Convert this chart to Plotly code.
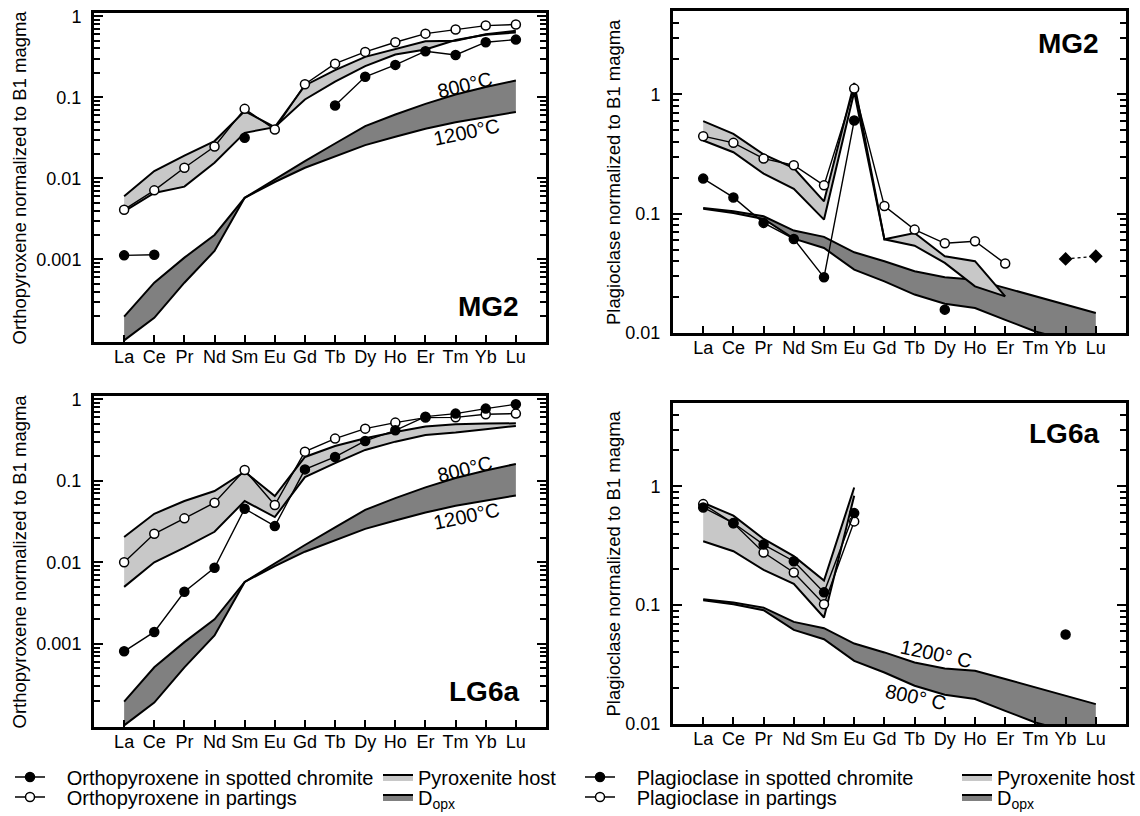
import numpy as np
import plotly.graph_objects as go

W, H = 1140, 816

elements = ["La", "Ce", "Pr", "Nd", "Sm", "Eu", "Gd", "Tb", "Dy", "Ho", "Er", "Tm", "Yb", "Lu"]

# ---------- MG2 orthopyroxene (top left) ----------
mg2_opx_spotted = [0.00112, 0.00114, None, None, 0.0316, None, None, 0.079, 0.179, 0.251, 0.37, 0.333, 0.478, 0.515]
mg2_opx_partings = [0.0041, 0.0071, 0.0135, 0.0247, 0.072, 0.040, 0.145, 0.26, 0.363, 0.478, 0.61, 0.685, 0.767, 0.79]
mg2_opx_host_upper = [0.0060, 0.0123, 0.0191, 0.0288, 0.0674, 0.0428, 0.14, 0.216, 0.315, 0.395, 0.49, 0.50, 0.60, 0.66]
mg2_opx_host_lower = [0.0039, 0.0066, 0.0079, 0.0156, 0.0364, 0.0428, 0.094, 0.156, 0.242, 0.337, 0.388, 0.51, 0.59, 0.63]

# ---------- LG6a orthopyroxene (bottom left) ----------
lg6a_opx_spotted = [0.00081, 0.0014, 0.00435, 0.00857, 0.0454, 0.0278, 0.138, 0.196, 0.308, 0.416, 0.612, 0.667, 0.768, 0.868]
lg6a_opx_partings = [0.0100, 0.0224, 0.0346, 0.0538, 0.1356, 0.0504, 0.2277, 0.329, 0.436, 0.517, 0.596, 0.60, 0.655, 0.667]
lg6a_opx_host_upper = [0.0204, 0.0394, 0.0565, 0.0749, 0.129, 0.065, 0.196, 0.267, 0.332, 0.397, 0.462, 0.493, 0.503, 0.507]
lg6a_opx_host_lower = [0.0050, 0.0100, 0.0151, 0.0237, 0.0565, 0.0359, 0.111, 0.165, 0.239, 0.302, 0.365, 0.39, 0.428, 0.471]

# ---------- D_opx (orthopyroxene partition coefficients) ----------
dopx_800 = [0.000196, 0.000515, 0.00105, 0.0020, 0.00575, 0.0097, 0.0163, 0.0269, 0.044, 0.0613, 0.083, 0.108, 0.134, 0.161]
dopx_1200 = [0.0001, 0.00019, 0.000515, 0.00127, 0.00575, 0.009, 0.0135, 0.0188, 0.0257, 0.0325, 0.0408, 0.0493, 0.0574, 0.066]

# ---------- MG2 plagioclase (top right) ----------
mg2_plag_spotted = [0.197, 0.137, 0.0838, 0.0615, 0.0293, 0.605, None, None, 0.0157, None, None, None, None, None]
mg2_plag_partings = [0.447, 0.393, 0.290, 0.255, 0.173, 1.12, 0.116, 0.0736, 0.0565, 0.0588, 0.0382, None, None, None]
mg2_plag_diamonds = [None, None, None, None, None, None, None, None, None, None, None, None, 0.0418, 0.044]
mg2_plag_host_upper = [0.597, 0.468, 0.314, 0.242, 0.127, 1.25, 0.061, 0.069, 0.044, 0.040, 0.0203, None, None, None]
mg2_plag_host_lower = [0.411, 0.328, 0.217, 0.162, 0.0893, 1.05, 0.061, 0.054, 0.0387, 0.0246, 0.0203, None, None, None]

# ---------- LG6a plagioclase (bottom right) ----------
lg6a_plag_spotted = [0.663, 0.49, 0.323, 0.234, 0.128, 0.594, None, None, None, None, None, None, 0.0566, None]
lg6a_plag_partings = [0.707, 0.487, 0.277, 0.188, 0.1017, 0.506, None, None, None, None, None, None, None, None]
lg6a_plag_host_upper = [0.726, 0.565, 0.36, 0.258, 0.161, 0.975, None, None, None, None, None, None, None, None]
lg6a_plag_host_lower = [0.344, 0.284, 0.198, 0.151, 0.0786, 0.83, None, None, None, None, None, None, None, None]

# ---------- D (plagioclase partition coefficients) ----------
dplag_1200 = [0.112, 0.105, 0.0953, 0.0723, 0.064, 0.0475, 0.040, 0.0329, 0.0293, 0.028, 0.0239, 0.0203, 0.0173, 0.0147]
dplag_800 = [0.110, 0.1016, 0.0905, 0.0619, 0.0516, 0.034, 0.0271, 0.021, 0.0176, 0.0162, 0.0129, 0.0103, 0.0088, 0.0078]

FONT = "Liberation Sans, Arial, Helvetica, sans-serif"
BLACK = "#000000"
LIGHT = "#c8c8c8"
DARK = "#808080"

fig = go.Figure()


def present(vals):
    xs = [e for e, v in zip(elements, vals) if v is not None]
    ys = [v for v in vals if v is not None]
    return xs, ys


def add_band(upper, lower, xa, ya, fill, name, legend=None):
    xu, yu = present(upper)
    xl, yl = present(lower)
    fig.add_trace(go.Scatter(x=xu, y=yu, mode="lines", line=dict(color=BLACK, width=2),
                             xaxis=xa, yaxis=ya, name=name, showlegend=False, hoverinfo="skip"))
    fig.add_trace(go.Scatter(x=xl, y=yl, mode="lines", line=dict(color=BLACK, width=2),
                             fill="tonexty", fillcolor=fill, xaxis=xa, yaxis=ya,
                             name=name, showlegend=legend is not None,
                             legend=legend if legend else "legend", hoverinfo="skip"))


def add_series(vals, xa, ya, filled, name, legend=None, symbol="circle", dash="solid"):
    fig.add_trace(go.Scatter(
        x=elements, y=vals, mode="lines+markers", connectgaps=False,
        line=dict(color=BLACK, width=1.4, dash=dash),
        marker=dict(symbol=symbol, size=9, color=BLACK if filled else "white",
                    line=dict(color=BLACK, width=1.5)),
        xaxis=xa, yaxis=ya, name=name, showlegend=legend is not None,
        legend=legend if legend else "legend", cliponaxis=True))


NB = "\u00a0\u00a0\u00a0"

# Top left: MG2 opx
add_band(dopx_800, dopx_1200, "x", "y", DARK, "D<sub>opx</sub>", "legend4")
add_band(mg2_opx_host_upper, mg2_opx_host_lower, "x", "y", LIGHT, "Pyroxenite host", "legend3")
add_series(mg2_opx_partings, "x", "y", False, NB + "Orthopyroxene in partings", "legend2")
add_series(mg2_opx_spotted, "x", "y", True, NB + "Orthopyroxene in spotted chromite", "legend")

# Top right: MG2 plag
add_band(dplag_1200, dplag_800, "x2", "y2", DARK, "D<sub>opx</sub>", "legend8")
add_band(mg2_plag_host_upper, mg2_plag_host_lower, "x2", "y2", LIGHT, "Pyroxenite host", "legend7")
add_series(mg2_plag_partings, "x2", "y2", False, NB + "Plagioclase in partings", "legend6")
add_series(mg2_plag_spotted, "x2", "y2", True, NB + "Plagioclase in spotted chromite", "legend5")
add_series(mg2_plag_diamonds, "x2", "y2", True, "MG2 Yb-Lu", symbol="diamond", dash="dot")

# Bottom left: LG6a opx
add_band(dopx_800, dopx_1200, "x3", "y3", DARK, "D opx")
add_band(lg6a_opx_host_upper, lg6a_opx_host_lower, "x3", "y3", LIGHT, "Pyroxenite host")
add_series(lg6a_opx_partings, "x3", "y3", False, "Orthopyroxene in partings")
add_series(lg6a_opx_spotted, "x3", "y3", True, "Orthopyroxene in spotted chromite")

# Bottom right: LG6a plag
add_band(dplag_1200, dplag_800, "x4", "y4", DARK, "D opx")
add_band(lg6a_plag_host_upper, lg6a_plag_host_lower, "x4", "y4", LIGHT, "Pyroxenite host")
add_series(lg6a_plag_partings, "x4", "y4", False, "Plagioclase in partings")
add_series(lg6a_plag_spotted, "x4", "y4", True, "Plagioclase in spotted chromite")


def px_x(a, b):
    return [a / W, b / W]


def px_y(top, bottom):
    return [1 - bottom / H, 1 - top / H]


opx_major = [0.001, 0.01, 0.1, 1]
opx_major_txt = ["0.001", "0.01", "0.1", "1"]
opx_minor = [m * 10.0 ** d for d in (-4, -3, -2, -1) for m in range(2, 10)]
plag_major = [0.01, 0.1, 1]
plag_major_txt = ["0.01", "0.1", "1"]
plag_minor = [m * 10.0 ** d for d in (-2, -1, 0) for m in range(2, 10) if m * 10.0 ** d < 4.9]


def xaxis_cfg(dom, anchor):
    return dict(domain=dom, anchor=anchor, type="category", categoryorder="array",
                categoryarray=elements, range=[-1, 14], tickmode="array",
                tickvals=elements, ticktext=elements, ticks="inside", ticklen=7,
                tickwidth=2, tickcolor=BLACK, showline=True, linewidth=3,
                linecolor=BLACK, mirror=True, showgrid=False, zeroline=False,
                tickfont=dict(family=FONT, size=18, color=BLACK), ticklabelstandoff=-4)


def yaxis_cfg(dom, anchor, rng, major, txt, minor):
    return dict(domain=dom, anchor=anchor, type="log", range=rng, tickmode="array",
                tickvals=major, ticktext=txt, ticks="inside", ticklen=9, tickwidth=2,
                tickcolor=BLACK, showline=True, linewidth=3, linecolor=BLACK,
                mirror="ticks", showgrid=False, zeroline=False,
                tickfont=dict(family=FONT, size=18, color=BLACK), ticklabelstandoff=6,
                minor=dict(tickmode="array", tickvals=minor, ticks="inside", ticklen=6,
                           tickwidth=2, tickcolor=BLACK, showgrid=False))


OPX_RANGE = [-4.02, 0.04]
PLAG_RANGE = [-2.0, 0.7]

layout = dict(
    width=W, height=H, margin=dict(l=0, r=0, t=0, b=0, autoexpand=False),
    paper_bgcolor="white", plot_bgcolor="white",
    font=dict(family=FONT, size=18, color=BLACK),
    xaxis=xaxis_cfg(px_x(94, 546), "y"),
    yaxis=yaxis_cfg(px_y(13, 342), "x", OPX_RANGE, opx_major, opx_major_txt, opx_minor),
    xaxis2=xaxis_cfg(px_x(673, 1126), "y2"),
    yaxis2=yaxis_cfg(px_y(11, 333), "x2", PLAG_RANGE, plag_major, plag_major_txt, plag_minor),
    xaxis3=xaxis_cfg(px_x(94, 546), "y3"),
    yaxis3=yaxis_cfg(px_y(396, 727), "x3", OPX_RANGE, opx_major, opx_major_txt, opx_minor),
    xaxis4=xaxis_cfg(px_x(673, 1126), "y4"),
    yaxis4=yaxis_cfg(px_y(403, 724), "x4", PLAG_RANGE, plag_major, plag_major_txt, plag_minor),
    showlegend=True,
)


def leg(xpx, ypx):
    return dict(x=xpx / W, y=1 - ypx / H, xanchor="left", yanchor="middle",
                bgcolor="rgba(0,0,0,0)", borderwidth=0, itemwidth=30,
                font=dict(family=FONT, size=20, color=BLACK), tracegroupgap=0)


layout["legend"] = leg(10, 777)
layout["legend2"] = leg(10, 797)
layout["legend3"] = leg(378, 777)
layout["legend4"] = leg(378, 797)
layout["legend5"] = leg(580, 777)
layout["legend6"] = leg(580, 797)
layout["legend7"] = leg(957, 777)
layout["legend8"] = leg(957, 797)

fig.update_layout(**layout)

ann = []
# y-axis titles
for xpx, yref, txt in [(19, "y domain", "Orthopyroxene normalized to B1 magma"),
                       (19, "y3 domain", "Orthopyroxene normalized to B1 magma"),
                       (613, "y2 domain", "Plagioclase normalized to B1 magma"),
                       (613, "y4 domain", "Plagioclase normalized to B1 magma")]:
    ann.append(dict(x=xpx / W, xref="paper", y=0.5, yref=yref, text=txt, textangle=-90,
                    showarrow=False, xanchor="center", yanchor="middle",
                    font=dict(family=FONT, size=18.5, color=BLACK)))

# panel labels
for xr, yr, yy, txt in [("x domain", "y domain", 0.107, "MG2"),
                        ("x2 domain", "y2 domain", 0.90, "MG2"),
                        ("x3 domain", "y3 domain", 0.106, "LG6a"),
                        ("x4 domain", "y4 domain", 0.905, "LG6a")]:
    ann.append(dict(x=0.945, xref=xr, y=yy, yref=yr, text="<b>" + txt + "</b>",
                    showarrow=False, xanchor="right", yanchor="middle",
                    font=dict(family=FONT, size=28, color=BLACK)))

# temperature labels
for xr, yr, xv, yv, txt, ang in [("x", "y", 11.31, 10 ** -0.851, "800°C", -14),
                                 ("x", "y", 11.37, 10 ** -1.43, "1200°C", -12),
                                 ("x3", "y3", 11.31, 10 ** -0.86, "800°C", -14),
                                 ("x3", "y3", 11.37, 10 ** -1.433, "1200°C", -12),
                                 ("x4", "y4", 7.74, 10 ** -1.411, "1200° C", 12),
                                 ("x4", "y4", 7.04, 10 ** -1.774, "800° C", 12)]:
    ann.append(dict(x=xv, xref=xr, y=np.log10(yv), yref=yr, text=txt, textangle=ang,
                    showarrow=False, xanchor="center", yanchor="middle",
                    font=dict(family=FONT, size=20, color=BLACK)))

fig.update_layout(annotations=ann)

fig.write_html("out.html")
